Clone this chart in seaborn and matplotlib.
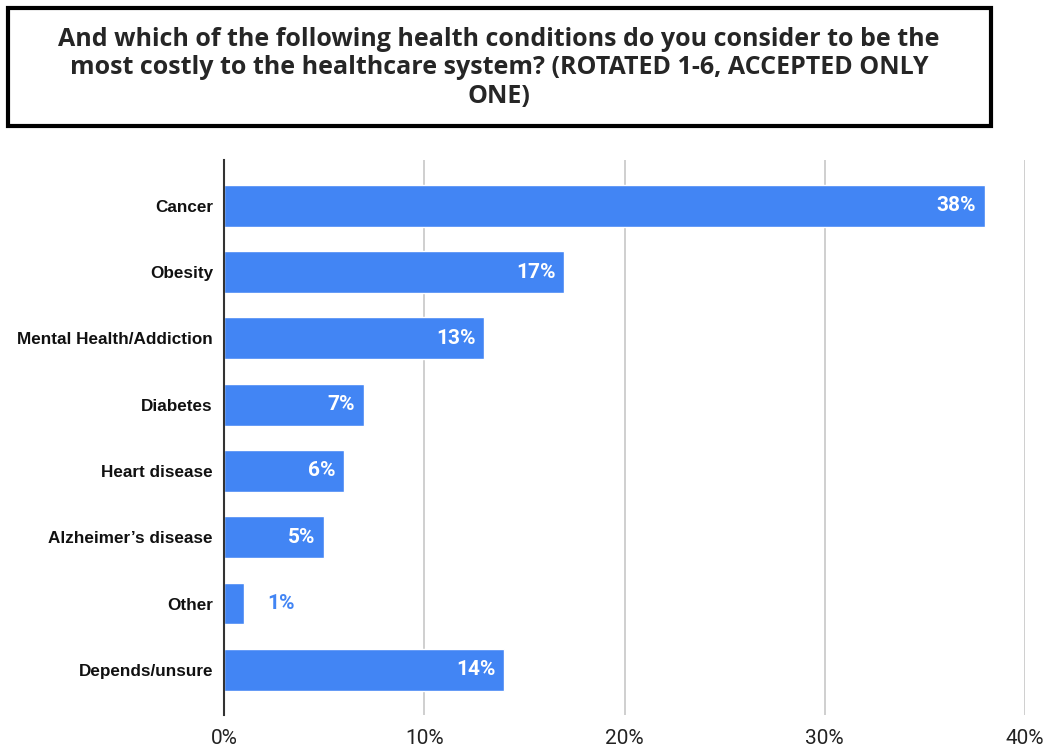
import matplotlib
matplotlib.use("Agg")
import matplotlib.pyplot as plt
import matplotlib.patches as patches
import pandas as pd
import seaborn as sns

# data
categories = ["Cancer", "Obesity", "Mental Health/Addiction", "Diabetes",
              "Heart disease", "Alzheimer\u2019s disease", "Other", "Depends/unsure"]
values = [38, 17, 13, 7, 6, 5, 1, 14]
x_ticks = [0, 10, 20, 30, 40]
title = ("And which of the following health conditions do you consider to be the\n"
         "most costly to the healthcare system? (ROTATED 1-6, ACCEPTED ONLY\nONE)")

df = pd.DataFrame({"condition": categories, "pct": values})

sns.set_style("white")
plt.rcParams["font.family"] = ["Liberation Sans", "DejaVu Sans"]

fig = plt.figure(figsize=(10.47, 7.46), dpi=100)
ax = fig.add_axes([224 / 1047, 1 - 715 / 746, (1025 - 224) / 1047, (715 - 160) / 746])

bar_color = "#4285f4"
sns.barplot(data=df, x="pct", y="condition", orient="h", color=bar_color,
            width=0.63, saturation=1, ax=ax, zorder=3)

ax.set_xlim(0, 40)
ax.set_ylim(7.68, -0.69)
ax.set_xticks(x_ticks)
ax.set_xticklabels([f"{t}%" for t in x_ticks], fontsize=15, family=["Roboto", "DejaVu Sans"],
                   color="#222222")
ax.tick_params(axis="x", length=0, pad=10)
ax.tick_params(axis="y", length=0, pad=8)
for lbl in ax.get_yticklabels():
    lbl.set_fontsize(12.3)
    lbl.set_fontweight("bold")
    lbl.set_color("#111111")
ax.set_xlabel("")
ax.set_ylabel("")

ax.grid(axis="x", color="#cccccc", linewidth=1.3, zorder=0)
ax.grid(axis="y", visible=False)
for side in ["top", "right", "bottom"]:
    ax.spines[side].set_visible(False)
ax.spines["left"].set_color("#333333")
ax.spines["left"].set_linewidth(1.5)
ax.spines["left"].set_zorder(5)

# value labels
for i, v in enumerate(values):
    if v >= 3:
        ax.text(v - 0.45, i, f"{v}%", ha="right", va="center", fontsize=15,
                fontweight="bold", color="white", family=["Roboto", "DejaVu Sans"], zorder=6)
    else:
        ax.text(v + 1.15, i, f"{v}%", ha="left", va="center", fontsize=15,
                fontweight="bold", color=bar_color, family=["Roboto", "DejaVu Sans"], zorder=6)

# title box
box = patches.Rectangle((8 / 1047, 1 - 126 / 746), (991 - 8) / 1047, (126 - 8) / 746,
                        transform=fig.transFigure, fill=False, edgecolor="black", linewidth=3)
fig.patches.append(box)
fig.text(499 / 1047, 1 - 68 / 746, title, ha="center", va="center", fontsize=18,
         fontweight="bold", family=["Open Sans", "DejaVu Sans"], linespacing=1.2)

fig.savefig("out.png", dpi=100)
